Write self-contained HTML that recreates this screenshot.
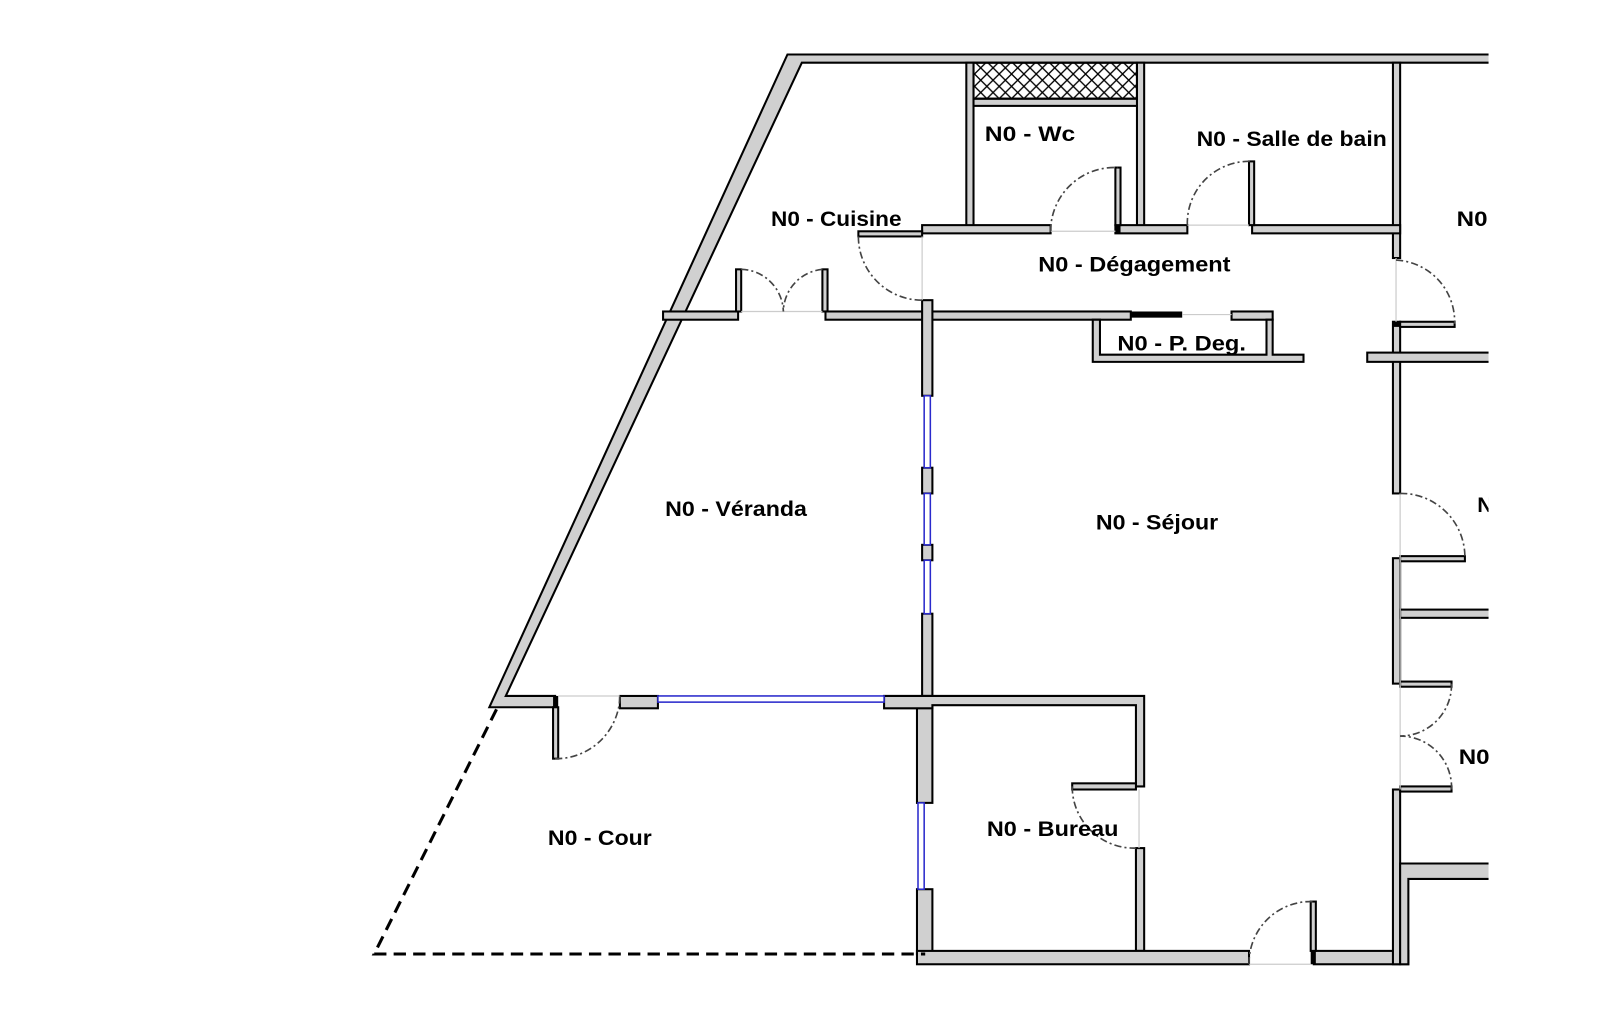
<!DOCTYPE html>
<html><head><meta charset="utf-8"><style>
html,body{margin:0;padding:0;background:#fff;}
svg{display:block;}
text{font-family:"Liberation Sans",sans-serif;font-weight:bold;font-size:21px;fill:#000;}
</style></head><body>
<svg width="1612" height="1028" viewBox="0 0 1612 1028" xmlns="http://www.w3.org/2000/svg">
<defs>
<pattern id="hx" width="12" height="12" patternUnits="userSpaceOnUse">
<path d="M0 0L12 12M12 0L0 12" stroke="#000" stroke-width="1.3"/>
</pattern>
<clipPath id="cp"><rect x="0" y="0" width="1448" height="1028"/></clipPath>
</defs>
<g transform="scale(1.028)">
<g clip-path="url(#cp)">
<g fill="#d0d0d0" stroke="#000" stroke-width="2">
<polygon points="766,53 1460,53 1460,61 780,61 492,677 540,677 540,688 476,688"/>
<rect x="940" y="61" width="7" height="159"/>
<rect x="1106" y="61" width="7" height="159"/>
<rect x="947" y="96" width="159" height="7"/>
<rect x="1355" y="61" width="7" height="190"/>
<rect x="897" y="219" width="125" height="8"/>
<rect x="835" y="225" width="62" height="5"/>
<rect x="1085" y="219" width="70" height="8"/>
<rect x="1218" y="219" width="144" height="8"/>
<rect x="1085" y="163" width="5" height="56"/>
<rect x="1215" y="157" width="5" height="62"/>
<rect x="645" y="303" width="73" height="8"/>
<rect x="716" y="262" width="5" height="41"/>
<rect x="800" y="262" width="5" height="41"/>
<rect x="803" y="303" width="297" height="8"/>
<rect x="1198" y="303" width="40" height="8"/>
<polygon points="1063,311 1070,311 1070,345 1232,345 1232,311 1238,311 1238,345 1268,345 1268,352 1063,352"/>
<rect x="897" y="292" width="10" height="93"/>
<rect x="897" y="455" width="10" height="25"/>
<rect x="897" y="530" width="10" height="15"/>
<rect x="897" y="597" width="10" height="80"/>
<rect x="892" y="686" width="15" height="95"/>
<rect x="892" y="865" width="15" height="63"/>
<rect x="603" y="677" width="37" height="12"/>
<polygon points="860,677 1113,677 1113,765 1105,765 1105,686 907,686 907,689 860,689"/>
<rect x="1043" y="762" width="62" height="6"/>
<rect x="1105" y="825" width="8" height="100"/>
<rect x="538" y="688" width="5" height="50"/>
<rect x="892" y="925" width="323" height="13"/>
<rect x="1278" y="925" width="92" height="13"/>
<rect x="1275" y="877" width="5" height="48"/>
<rect x="1355" y="313" width="7" height="167"/>
<rect x="1362" y="313" width="53" height="5"/>
<rect x="1330" y="343" width="130" height="9"/>
<rect x="1355" y="543" width="7" height="122"/>
<rect x="1362" y="541" width="63" height="5"/>
<rect x="1362" y="593" width="98" height="8"/>
<rect x="1362" y="663" width="50" height="5"/>
<rect x="1355" y="768" width="7" height="170"/>
<rect x="1362" y="765" width="50" height="5"/>
<polygon points="1362,840 1460,840 1460,855 1370,855 1370,938 1362,938"/>
</g>
<rect x="947" y="61" width="159" height="35" fill="url(#hx)" stroke="#000" stroke-width="2"/>
<g fill="#000">
<rect x="1085" y="219" width="5" height="8"/>
<rect x="1100" y="303" width="50" height="6"/>
<rect x="538" y="677" width="5" height="11"/>
<rect x="1355" y="313" width="7" height="5"/>
<rect x="1275" y="925" width="5" height="13"/>
</g>
<g fill="#fff" stroke="#2a2acc" stroke-width="1.5">
<rect x="899" y="385" width="6" height="70"/>
<rect x="899" y="480" width="6" height="50"/>
<rect x="899" y="545" width="6" height="52"/>
<rect x="893" y="781" width="6" height="84"/>
<rect x="640" y="677" width="220" height="6"/>
</g>
<g stroke="#ccc" stroke-width="1.2" fill="none">
<line x1="897" y1="230" x2="897" y2="292"/>
<line x1="1022" y1="225" x2="1085" y2="225"/>
<line x1="1155" y1="219" x2="1215" y2="219"/>
<line x1="721" y1="303" x2="800" y2="303"/>
<line x1="1150" y1="306" x2="1198" y2="306"/>
<line x1="1358" y1="251" x2="1358" y2="313"/>
<line x1="1362" y1="480" x2="1362" y2="768"/>
<line x1="543" y1="677" x2="603" y2="677"/>
<line x1="1108" y1="768" x2="1108" y2="825"/>
<line x1="1215" y1="938" x2="1275" y2="938"/>
</g>
<g stroke="#444" stroke-width="1.6" fill="none" stroke-dasharray="7 3 2 3">
<path d="M1022 225 A62 62 0 0 1 1087 163"/>
<path d="M1155 219 A60 60 0 0 1 1217 157"/>
<path d="M835 230 A62 62 0 0 0 897 292"/>
<path d="M721 262 A42 42 0 0 1 762 303"/>
<path d="M800 262 A42 42 0 0 0 762 303"/>
<path d="M1358 253 A60 60 0 0 1 1415 315"/>
<path d="M1362 480 A62 62 0 0 1 1425 543"/>
<path d="M1412 665 A50 50 0 0 1 1362 716"/>
<path d="M1412 768 A50 50 0 0 0 1362 716"/>
<path d="M540 738 A62 62 0 0 0 603 677"/>
<path d="M1043 765 A60 60 0 0 0 1105 825"/>
<path d="M1215 938 A60 60 0 0 1 1277 877"/>
</g>
<path d="M483 690 L364 928 L900 928" fill="none" stroke="#000" stroke-width="3" stroke-dasharray="12 7"/>
<text x="958" y="137" textLength="88" lengthAdjust="spacingAndGlyphs">N0 - Wc</text>
<text x="1164" y="142" textLength="185" lengthAdjust="spacingAndGlyphs">N0 - Salle de bain</text>
<text x="750" y="220" textLength="127" lengthAdjust="spacingAndGlyphs">N0 - Cuisine</text>
<text x="1010" y="264" textLength="187" lengthAdjust="spacingAndGlyphs">N0 - Dégagement</text>
<text x="1087" y="341" textLength="125" lengthAdjust="spacingAndGlyphs">N0 - P. Deg.</text>
<text x="647" y="502" textLength="138" lengthAdjust="spacingAndGlyphs">N0 - Véranda</text>
<text x="1066" y="515" textLength="119" lengthAdjust="spacingAndGlyphs">N0 - Séjour</text>
<text x="533" y="822" textLength="101" lengthAdjust="spacingAndGlyphs">N0 - Cour</text>
<text x="960" y="813" textLength="128" lengthAdjust="spacingAndGlyphs">N0 - Bureau</text>
<text x="1417" y="220" textLength="30" lengthAdjust="spacingAndGlyphs">N0</text>
<text x="1437" y="498">N</text>
<text x="1419" y="743" textLength="30" lengthAdjust="spacingAndGlyphs">N0</text>
</g>
</g>
</svg>
</body></html>
